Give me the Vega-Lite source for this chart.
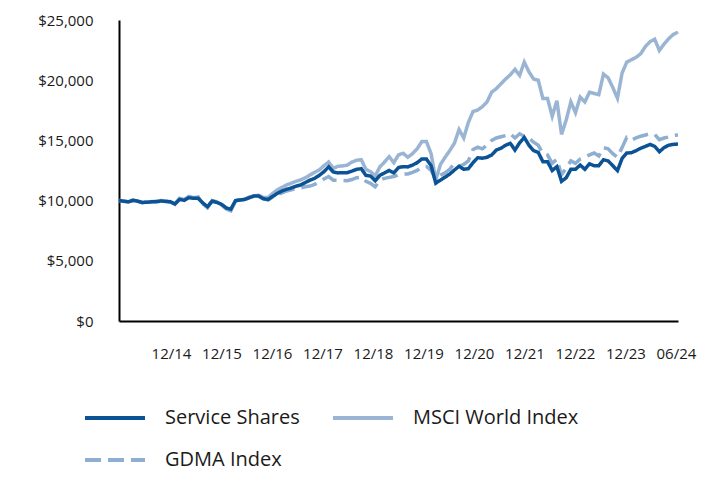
{
  "$schema": "https://vega.github.io/schema/vega-lite/v6.json",
  "width": 559,
  "height": 301,
  "autosize": {"type": "none"},
  "padding": {"left": 119, "top": 20, "right": 42, "bottom": 159},
  "background": "white",
  "config": {
    "view": {"stroke": null},
    "font": "Open Sans",
    "axis": {"grid": false, "ticks": false, "domainColor": "#000000", "domainWidth": 2, "labelColor": "#1a1a1a", "labelFontSize": 15, "labelFont": "Open Sans", "title": null}
  },
  "data": {"values": [
    {"t":0,"Service Shares":10000,"MSCI World Index":10000,"GDMA Index":10000},
    {"t":1,"Service Shares":9950,"MSCI World Index":9930,"GDMA Index":9960},
    {"t":2,"Service Shares":9900,"MSCI World Index":9880,"GDMA Index":9900},
    {"t":3,"Service Shares":10020,"MSCI World Index":10050,"GDMA Index":10020},
    {"t":4,"Service Shares":9950,"MSCI World Index":9980,"GDMA Index":9960},
    {"t":5,"Service Shares":9850,"MSCI World Index":9820,"GDMA Index":9850},
    {"t":6,"Service Shares":9860,"MSCI World Index":9880,"GDMA Index":9870},
    {"t":7,"Service Shares":9900,"MSCI World Index":9920,"GDMA Index":9900},
    {"t":8,"Service Shares":9900,"MSCI World Index":9950,"GDMA Index":9920},
    {"t":9,"Service Shares":9970,"MSCI World Index":10000,"GDMA Index":9980},
    {"t":10,"Service Shares":9930,"MSCI World Index":9950,"GDMA Index":9940},
    {"t":11,"Service Shares":9900,"MSCI World Index":9920,"GDMA Index":9900},
    {"t":12,"Service Shares":9720,"MSCI World Index":9700,"GDMA Index":9700},
    {"t":13,"Service Shares":10100,"MSCI World Index":10200,"GDMA Index":10150},
    {"t":14,"Service Shares":10020,"MSCI World Index":10100,"GDMA Index":10050},
    {"t":15,"Service Shares":10240,"MSCI World Index":10350,"GDMA Index":10300},
    {"t":16,"Service Shares":10190,"MSCI World Index":10250,"GDMA Index":10200},
    {"t":17,"Service Shares":10190,"MSCI World Index":10300,"GDMA Index":10250},
    {"t":18,"Service Shares":9800,"MSCI World Index":9750,"GDMA Index":9750},
    {"t":19,"Service Shares":9500,"MSCI World Index":9400,"GDMA Index":9450},
    {"t":20,"Service Shares":9950,"MSCI World Index":10000,"GDMA Index":9980},
    {"t":21,"Service Shares":9850,"MSCI World Index":9900,"GDMA Index":9850},
    {"t":22,"Service Shares":9700,"MSCI World Index":9650,"GDMA Index":9650},
    {"t":23,"Service Shares":9400,"MSCI World Index":9300,"GDMA Index":9350},
    {"t":24,"Service Shares":9280,"MSCI World Index":9150,"GDMA Index":9200},
    {"t":25,"Service Shares":10000,"MSCI World Index":9950,"GDMA Index":10000},
    {"t":26,"Service Shares":10050,"MSCI World Index":10050,"GDMA Index":10050},
    {"t":27,"Service Shares":10100,"MSCI World Index":10100,"GDMA Index":10100},
    {"t":28,"Service Shares":10250,"MSCI World Index":10300,"GDMA Index":10250},
    {"t":29,"Service Shares":10380,"MSCI World Index":10400,"GDMA Index":10350},
    {"t":30,"Service Shares":10380,"MSCI World Index":10450,"GDMA Index":10350},
    {"t":31,"Service Shares":10150,"MSCI World Index":10250,"GDMA Index":10150},
    {"t":32,"Service Shares":10100,"MSCI World Index":10250,"GDMA Index":10050},
    {"t":33,"Service Shares":10350,"MSCI World Index":10600,"GDMA Index":10300},
    {"t":34,"Service Shares":10600,"MSCI World Index":10900,"GDMA Index":10500},
    {"t":35,"Service Shares":10800,"MSCI World Index":11100,"GDMA Index":10650},
    {"t":36,"Service Shares":10940,"MSCI World Index":11300,"GDMA Index":10800},
    {"t":37,"Service Shares":11050,"MSCI World Index":11450,"GDMA Index":10900},
    {"t":38,"Service Shares":11200,"MSCI World Index":11600,"GDMA Index":11000},
    {"t":39,"Service Shares":11300,"MSCI World Index":11720,"GDMA Index":11050},
    {"t":40,"Service Shares":11500,"MSCI World Index":11900,"GDMA Index":11150},
    {"t":41,"Service Shares":11700,"MSCI World Index":12130,"GDMA Index":11210},
    {"t":42,"Service Shares":11850,"MSCI World Index":12350,"GDMA Index":11350},
    {"t":43,"Service Shares":12100,"MSCI World Index":12550,"GDMA Index":11550},
    {"t":44,"Service Shares":12400,"MSCI World Index":12900,"GDMA Index":11800},
    {"t":45,"Service Shares":12800,"MSCI World Index":13200,"GDMA Index":12000},
    {"t":46,"Service Shares":12380,"MSCI World Index":12680,"GDMA Index":11700},
    {"t":47,"Service Shares":12300,"MSCI World Index":12850,"GDMA Index":11700},
    {"t":48,"Service Shares":12320,"MSCI World Index":12880,"GDMA Index":11680},
    {"t":49,"Service Shares":12320,"MSCI World Index":12950,"GDMA Index":11650},
    {"t":50,"Service Shares":12450,"MSCI World Index":13200,"GDMA Index":11750},
    {"t":51,"Service Shares":12600,"MSCI World Index":13350,"GDMA Index":11900},
    {"t":52,"Service Shares":12650,"MSCI World Index":13400,"GDMA Index":11950},
    {"t":53,"Service Shares":12100,"MSCI World Index":12600,"GDMA Index":11600},
    {"t":54,"Service Shares":12040,"MSCI World Index":12400,"GDMA Index":11440},
    {"t":55,"Service Shares":11650,"MSCI World Index":12050,"GDMA Index":11150},
    {"t":56,"Service Shares":12100,"MSCI World Index":12800,"GDMA Index":11700},
    {"t":57,"Service Shares":12300,"MSCI World Index":13200,"GDMA Index":11850},
    {"t":58,"Service Shares":12500,"MSCI World Index":13650,"GDMA Index":11930},
    {"t":59,"Service Shares":12300,"MSCI World Index":13150,"GDMA Index":12000},
    {"t":60,"Service Shares":12750,"MSCI World Index":13800,"GDMA Index":12150},
    {"t":61,"Service Shares":12820,"MSCI World Index":13930,"GDMA Index":12210},
    {"t":62,"Service Shares":12800,"MSCI World Index":13600,"GDMA Index":12210},
    {"t":63,"Service Shares":12950,"MSCI World Index":13900,"GDMA Index":12350},
    {"t":64,"Service Shares":13150,"MSCI World Index":14300,"GDMA Index":12500},
    {"t":65,"Service Shares":13450,"MSCI World Index":14900,"GDMA Index":12800},
    {"t":66,"Service Shares":13450,"MSCI World Index":14900,"GDMA Index":12830},
    {"t":67,"Service Shares":12900,"MSCI World Index":13900,"GDMA Index":12500},
    {"t":68,"Service Shares":11450,"MSCI World Index":11710,"GDMA Index":11770},
    {"t":69,"Service Shares":11700,"MSCI World Index":13000,"GDMA Index":12100},
    {"t":70,"Service Shares":11950,"MSCI World Index":13600,"GDMA Index":12300},
    {"t":71,"Service Shares":12200,"MSCI World Index":14150,"GDMA Index":12600},
    {"t":72,"Service Shares":12540,"MSCI World Index":14760,"GDMA Index":13100},
    {"t":73,"Service Shares":12850,"MSCI World Index":15900,"GDMA Index":12850},
    {"t":74,"Service Shares":12600,"MSCI World Index":15200,"GDMA Index":13000},
    {"t":75,"Service Shares":12650,"MSCI World Index":16500,"GDMA Index":13300},
    {"t":76,"Service Shares":13150,"MSCI World Index":17400,"GDMA Index":14250},
    {"t":77,"Service Shares":13560,"MSCI World Index":17520,"GDMA Index":14440},
    {"t":78,"Service Shares":13520,"MSCI World Index":17800,"GDMA Index":14300},
    {"t":79,"Service Shares":13600,"MSCI World Index":18200,"GDMA Index":14600},
    {"t":80,"Service Shares":13790,"MSCI World Index":19000,"GDMA Index":15000},
    {"t":81,"Service Shares":14200,"MSCI World Index":19300,"GDMA Index":15200},
    {"t":82,"Service Shares":14350,"MSCI World Index":19700,"GDMA Index":15300},
    {"t":83,"Service Shares":14600,"MSCI World Index":20100,"GDMA Index":15400},
    {"t":84,"Service Shares":14760,"MSCI World Index":20450,"GDMA Index":15550},
    {"t":85,"Service Shares":14200,"MSCI World Index":20900,"GDMA Index":15200},
    {"t":86,"Service Shares":14800,"MSCI World Index":20400,"GDMA Index":15550},
    {"t":87,"Service Shares":15250,"MSCI World Index":21500,"GDMA Index":15350},
    {"t":88,"Service Shares":14600,"MSCI World Index":20700,"GDMA Index":15200},
    {"t":89,"Service Shares":14150,"MSCI World Index":20100,"GDMA Index":14850},
    {"t":90,"Service Shares":14000,"MSCI World Index":20000,"GDMA Index":14590},
    {"t":91,"Service Shares":13230,"MSCI World Index":18470,"GDMA Index":13900},
    {"t":92,"Service Shares":13230,"MSCI World Index":18470,"GDMA Index":13790},
    {"t":93,"Service Shares":12500,"MSCI World Index":17000,"GDMA Index":13100},
    {"t":94,"Service Shares":12820,"MSCI World Index":18300,"GDMA Index":13430},
    {"t":95,"Service Shares":11600,"MSCI World Index":15500,"GDMA Index":12150},
    {"t":96,"Service Shares":11900,"MSCI World Index":16700,"GDMA Index":12700},
    {"t":97,"Service Shares":12600,"MSCI World Index":18200,"GDMA Index":13300},
    {"t":98,"Service Shares":12600,"MSCI World Index":17300,"GDMA Index":13100},
    {"t":99,"Service Shares":12950,"MSCI World Index":18600,"GDMA Index":13450},
    {"t":100,"Service Shares":12600,"MSCI World Index":18190,"GDMA Index":13600},
    {"t":101,"Service Shares":13050,"MSCI World Index":19000,"GDMA Index":13790},
    {"t":102,"Service Shares":12900,"MSCI World Index":18900,"GDMA Index":13950},
    {"t":103,"Service Shares":12900,"MSCI World Index":18800,"GDMA Index":13700},
    {"t":104,"Service Shares":13400,"MSCI World Index":20500,"GDMA Index":14400},
    {"t":105,"Service Shares":13300,"MSCI World Index":20200,"GDMA Index":14300},
    {"t":106,"Service Shares":12900,"MSCI World Index":19400,"GDMA Index":13900},
    {"t":107,"Service Shares":12490,"MSCI World Index":18500,"GDMA Index":13600},
    {"t":108,"Service Shares":13500,"MSCI World Index":20600,"GDMA Index":14400},
    {"t":109,"Service Shares":13950,"MSCI World Index":21500,"GDMA Index":15250},
    {"t":110,"Service Shares":13980,"MSCI World Index":21700,"GDMA Index":15030},
    {"t":111,"Service Shares":14150,"MSCI World Index":21900,"GDMA Index":15200},
    {"t":112,"Service Shares":14350,"MSCI World Index":22200,"GDMA Index":15350},
    {"t":113,"Service Shares":14500,"MSCI World Index":22800,"GDMA Index":15450},
    {"t":114,"Service Shares":14670,"MSCI World Index":23200,"GDMA Index":15560},
    {"t":115,"Service Shares":14500,"MSCI World Index":23400,"GDMA Index":15500},
    {"t":116,"Service Shares":14060,"MSCI World Index":22470,"GDMA Index":15060},
    {"t":117,"Service Shares":14400,"MSCI World Index":23000,"GDMA Index":15200},
    {"t":118,"Service Shares":14600,"MSCI World Index":23450,"GDMA Index":15280},
    {"t":119,"Service Shares":14670,"MSCI World Index":23800,"GDMA Index":15420},
    {"t":120,"Service Shares":14700,"MSCI World Index":24000,"GDMA Index":15450}
  ]},
  "transform": [{"fold": ["MSCI World Index", "GDMA Index", "Service Shares"], "as": ["series", "value"]}],
  "encoding": {
    "x": {
      "field": "t", "type": "quantitative",
      "scale": {"domain": [0, 120], "nice": false, "zero": false},
      "axis": {
        "values": [11.16, 22.0, 32.84, 43.68, 54.52, 65.36, 76.2, 87.04, 97.88, 108.72, 119.56],
        "labelExpr": "['12/14','12/15','12/16','12/17','12/18','12/19','12/20','12/21','12/22','12/23','06/24'][round((datum.value-11.16)/10.84)]",
        "labelPadding": 25, "labelFlush": false, "labelOverlap": false, "labelBound": false
      }
    },
    "y": {
      "field": "value", "type": "quantitative",
      "scale": {"domain": [0, 25000], "nice": false},
      "axis": {"values": [0, 5000, 10000, 15000, 20000, 25000], "format": "$,.0f", "labelPadding": 26}
    },
    "color": {
      "field": "series", "type": "nominal",
      "scale": {"domain": ["Service Shares", "GDMA Index", "MSCI World Index"], "range": ["#0b5394", "#8eaed2", "#9ab5d4"]},
      "legend": {"orient": "none", "legendX": -36, "legendY": 366, "columns": 2, "title": null, "symbolType": "stroke", "symbolSize": 3600, "symbolStrokeWidth": 4, "labelFontSize": 20, "labelColor": "#1a1a1a", "labelFont": "Open Sans", "labelOffset": 18, "labelLimit": 0, "columnPadding": 25, "rowPadding": -2}
    },
    "strokeDash": {
      "field": "series", "type": "nominal",
      "scale": {"domain": ["Service Shares", "GDMA Index", "MSCI World Index"], "range": [[1, 0], [16, 7], [1, 0]]},
      "legend": {"orient": "none", "legendX": -36, "legendY": 366, "columns": 2, "title": null, "symbolType": "stroke", "symbolSize": 3600, "symbolStrokeWidth": 4, "labelFontSize": 20, "labelColor": "#1a1a1a", "labelFont": "Open Sans", "labelOffset": 18, "labelLimit": 0, "columnPadding": 25, "rowPadding": -2}
    }
  },
  "layer": [
    {"transform": [{"filter": "datum.series === 'MSCI World Index'"}], "mark": {"type": "line", "strokeWidth": 3.5}},
    {"transform": [{"filter": "datum.series === 'GDMA Index'"}], "mark": {"type": "line", "strokeWidth": 3.5}},
    {"transform": [{"filter": "datum.series === 'Service Shares'"}], "mark": {"type": "line", "strokeWidth": 3.5}}
  ]
}
